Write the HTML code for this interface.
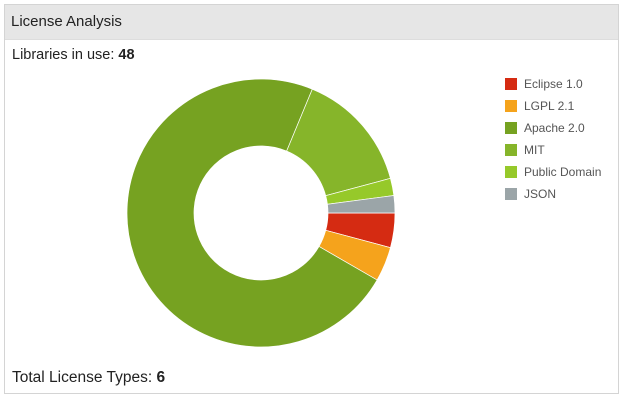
<!DOCTYPE html>
<html><head><style>
body{margin:0;width:626px;height:408px;background:#fff;font-family:"Liberation Sans",sans-serif;position:relative;overflow:hidden}
.panel{position:absolute;left:4px;top:4px;width:613px;height:388px;border:1px solid #d4d4d4}
.hd{position:absolute;left:0;top:0;width:613px;height:34px;background:#e6e6e6;border-bottom:1px solid #ddd}
.t{position:absolute;color:#222;white-space:nowrap}
.lg{position:absolute;left:505px;font-size:12px;color:#555}
.lg i{position:absolute;left:0;top:0;width:12px;height:12px}
.lg span{position:absolute;left:19px;top:-1px;white-space:nowrap}
</style></head><body>
<div class="panel"><div class="hd"></div></div>
<div class="t" style="left:11px;top:13px;font-size:15px">License Analysis</div>
<div class="t" style="left:12px;top:47px;font-size:14.5px">Libraries in use: <b>48</b></div>
<div class="t" style="left:12px;top:369px;font-size:15.5px">Total License Types: <b>6</b></div>
<svg style="position:absolute;left:0;top:0" width="626" height="408">
<g id="d"></g>
</svg>
<div class="lg" style="top:78px"><i style="background:#d52b12"></i><span>Eclipse 1.0</span></div>
<div class="lg" style="top:100px"><i style="background:#f5a31c"></i><span>LGPL 2.1</span></div>
<div class="lg" style="top:122px"><i style="background:#76a221"></i><span>Apache 2.0</span></div>
<div class="lg" style="top:144px"><i style="background:#86b52a"></i><span>MIT</span></div>
<div class="lg" style="top:166px"><i style="background:#96c92a"></i><span>Public Domain</span></div>
<div class="lg" style="top:188px"><i style="background:#9ba5a8"></i><span>JSON</span></div>
<script>
var cx=261,cy=213,R=134,r=67,data=[[2,"#d52b12"],[2,"#f5a31c"],[35,"#76a221"],[7,"#86b52a"],[1,"#96c92a"],[1,"#9ba5a8"]];
var a=0,s="";
data.forEach(function(d){var b=a+d[0]/48*2*Math.PI;var L=(b-a)>Math.PI?1:0;
function p(rad,t){return (cx+rad*Math.cos(t)).toFixed(2)+" "+(cy+rad*Math.sin(t)).toFixed(2)}
s+='<path fill="'+d[1]+'" stroke="#fff" stroke-width="0.7" d="M'+p(R,a)+' A'+R+' '+R+' 0 '+L+' 1 '+p(R,b)+' L'+p(r,b)+' A'+r+' '+r+' 0 '+L+' 0 '+p(r,a)+'Z"/>';a=b;});
document.getElementById("d").innerHTML=s;
</script>
</body></html>
